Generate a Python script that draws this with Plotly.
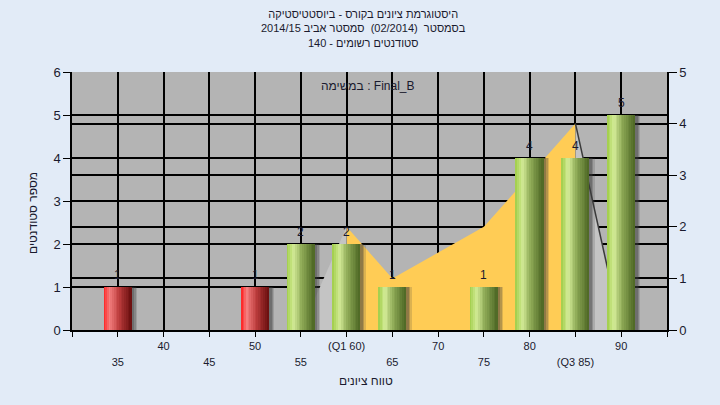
import plotly.graph_objects as go

# ---------------- data ----------------
grades = [35, 50, 55, 60, 65, 75, 80, 85, 90]
counts = [1, 1, 2, 2, 1, 1, 4, 4, 5]
passing = [False, False, True, True, True, True, True, True, True]

curve_x = [55, 60, 65, 75, 85, 90]
curve_y = [0, 2, 1, 2, 4, 0]

grid_ticks = [30, 35, 40, 45, 50, 55, 60, 65, 70, 75, 80, 85, 90, 95]
row1_vals = [40, 50, 60, 70, 80, 90]
row1_text = ["40", "50", "(Q1 60)", "70", "80", "90"]
row2_vals = [35, 45, 55, 65, 75, 85]
row2_text = ["35", "45", "55", "65", "75", "(Q3 85)"]

title_lines = [
    "היסטוגרמת ציונים בקורס - ביוסטטיסטיקה",
    "בסמסטר  (02/2014)  סמסטר אביב 2014/15",
    "סטודנטים רשומים - 140",
]
task_label = "במשימה : Final_B"
x_title = "טווח ציונים"
y_title = "מספר סטודנטים"

# ---------------- styles ----------------
FONT = "Liberation Sans, Arial, DejaVu Sans, sans-serif"
TXT = "#1a1a2e"
BG = "#e2ebf7"
BAR_W = 3.0
N_STRIPS = 16
# gradient stops (position across bar, colour)
green_stops = [(0.0, (158, 204, 70)), (0.25, (212, 236, 152)), (0.55, (142, 170, 86)), (1.0, (76, 102, 36))]
red_stops = [(0.0, (255, 30, 30)), (0.22, (244, 128, 128)), (0.55, (190, 62, 62)), (1.0, (104, 14, 14))]


def grad(stops, t):
    for (p0, c0), (p1, c1) in zip(stops[:-1], stops[1:]):
        if p0 <= t <= p1:
            f = (t - p0) / (p1 - p0)
            return "rgb(%d,%d,%d)" % tuple(round(a + (b - a) * f) for a, b in zip(c0, c1))
    return "rgb(%d,%d,%d)" % stops[-1][1]


sw = BAR_W / N_STRIPS

fig = go.Figure()

# curve (right axis = base y)
fig.add_trace(go.Scatter(x=curve_x[1:5], y=curve_y[1:5], yaxis="y", mode="lines",
                         line=dict(width=0, color="#ffcc55"), fill="tozeroy",
                         fillcolor="#ffcc55", hoverinfo="skip", showlegend=False))
fig.add_trace(go.Scatter(x=curve_x[0:2], y=curve_y[0:2], yaxis="y", mode="lines",
                         line=dict(width=0, color="#c4c4c4"), fill="tozeroy",
                         fillcolor="#c4c4c4", hoverinfo="skip", showlegend=False))
fig.add_trace(go.Scatter(x=curve_x[4:6], y=curve_y[4:6], yaxis="y", mode="lines",
                         line=dict(width=0, color="#c4c4c4"), fill="tozeroy",
                         fillcolor="#c4c4c4", hoverinfo="skip", showlegend=False))
fig.add_trace(go.Scatter(x=curve_x[4:6], y=curve_y[4:6], yaxis="y", mode="lines",
                         line=dict(width=1.5, color="#3a3a3a"),
                         hoverinfo="skip", showlegend=False))

# bar shadows (left axis = overlay y2)
for k, (dx, a) in enumerate([(0.6, 0.18), (0.45, 0.25), (0.3, 0.3)]):
    fig.add_trace(go.Bar(x=grades, y=counts, yaxis="y2", width=BAR_W,
                         offset=-BAR_W / 2 + dx,
                         marker=dict(color="rgba(60,60,60,%.2f)" % a, line=dict(width=0)),
                         hoverinfo="skip", showlegend=False))
# cylinder strips
for i in range(N_STRIPS):
    t = (i + 0.5) / N_STRIPS
    cols = [grad(green_stops, t) if p else grad(red_stops, t) for p in passing]
    fig.add_trace(go.Bar(x=grades, y=counts, yaxis="y2", width=sw + 0.015,
                         offset=-BAR_W / 2 + i * sw,
                         marker=dict(color=cols, line=dict(width=0)),
                         hoverinfo="skip", showlegend=False))
# invisible trace to hold second x axis (row 2 labels)
fig.add_trace(go.Scatter(x=row2_vals, y=[None] * len(row2_vals), xaxis="x2", yaxis="y",
                         mode="markers", hoverinfo="skip", showlegend=False))

# value labels above bars
for g, c in zip(grades, counts):
    fig.add_annotation(x=g, y=c, xref="x", yref="y2", text=str(c), showarrow=False,
                       yshift=12, xanchor="center", yanchor="middle",
                       font=dict(size=12, color=TXT, family=FONT))

main_text = [row1_text[row1_vals.index(v)] if v in row1_vals else "" for v in grid_ticks]

fig.update_layout(
    width=720, height=405,
    margin=dict(l=72, r=53, t=72, b=75, autoexpand=False),
    paper_bgcolor=BG,
    plot_bgcolor="#b4b4b4",
    barmode="overlay",
    bargap=0,
    font=dict(family=FONT, color=TXT, size=12),
    xaxis=dict(range=[30, 95], tickmode="array", tickvals=grid_ticks, ticktext=main_text,
               showgrid=True, gridcolor="black", gridwidth=1.5, automargin=False,
               showline=True, linecolor="black", linewidth=1.5, mirror=False,
               ticks="outside", ticklen=5, tickcolor="black",
               tickfont=dict(size=11, color=TXT), zeroline=False),
    xaxis2=dict(range=[30, 95], overlaying="x", side="bottom", anchor="y",
                tickmode="array", tickvals=row2_vals, ticktext=row2_text, automargin=False,
                showgrid=False, ticks="", showline=False, zeroline=False,
                ticklabelstandoff=24, tickfont=dict(size=11, color=TXT)),
    yaxis=dict(range=[0, 5], side="right", tickmode="linear", dtick=1, automargin=False,
               showgrid=True, gridcolor="black", gridwidth=1.5,
               showline=True, linecolor="black", linewidth=1.5,
               ticks="outside", ticklen=8, tickcolor="black",
               tickfont=dict(size=13, color=TXT), zeroline=False),
    yaxis2=dict(range=[0, 6], side="left", overlaying="y", tickmode="linear", dtick=1,
                automargin=False,
                showgrid=True, gridcolor="black", gridwidth=1.5,
                showline=True, linecolor="black", linewidth=1.5,
                ticks="outside", ticklen=7, tickcolor="black",
                tickfont=dict(size=13, color=TXT), zeroline=False),
)

# title (one block, three lines)
fig.add_annotation(text="<br>".join(title_lines), xref="paper", yref="paper",
                   x=(363 - 72) / 595, y=(330 - 29) / 258,
                   xanchor="center", yanchor="middle", showarrow=False, align="center",
                   font=dict(size=11, color=TXT, family=FONT))

fig.add_annotation(text=task_label, xref="paper", yref="paper",
                   x=(368 - 72) / 595, y=(330 - 86) / 258, xanchor="center", yanchor="middle",
                   showarrow=False, font=dict(size=12, color=TXT, family=FONT))
fig.add_annotation(text=x_title, xref="paper", yref="paper",
                   x=(366 - 72) / 595, y=(330 - 381) / 258, xanchor="center", yanchor="middle",
                   showarrow=False, font=dict(size=12, color=TXT, family=FONT))
fig.add_annotation(text=y_title, xref="paper", yref="paper",
                   x=(33 - 72) / 595, y=(330 - 213) / 258, xanchor="center", yanchor="middle",
                   textangle=-90, showarrow=False, font=dict(size=12, color=TXT, family=FONT))

fig.write_html("out.html", config={"displayModeBar": False},
               post_script="document.body.style.margin='0';document.body.style.background='%s';" % BG)
